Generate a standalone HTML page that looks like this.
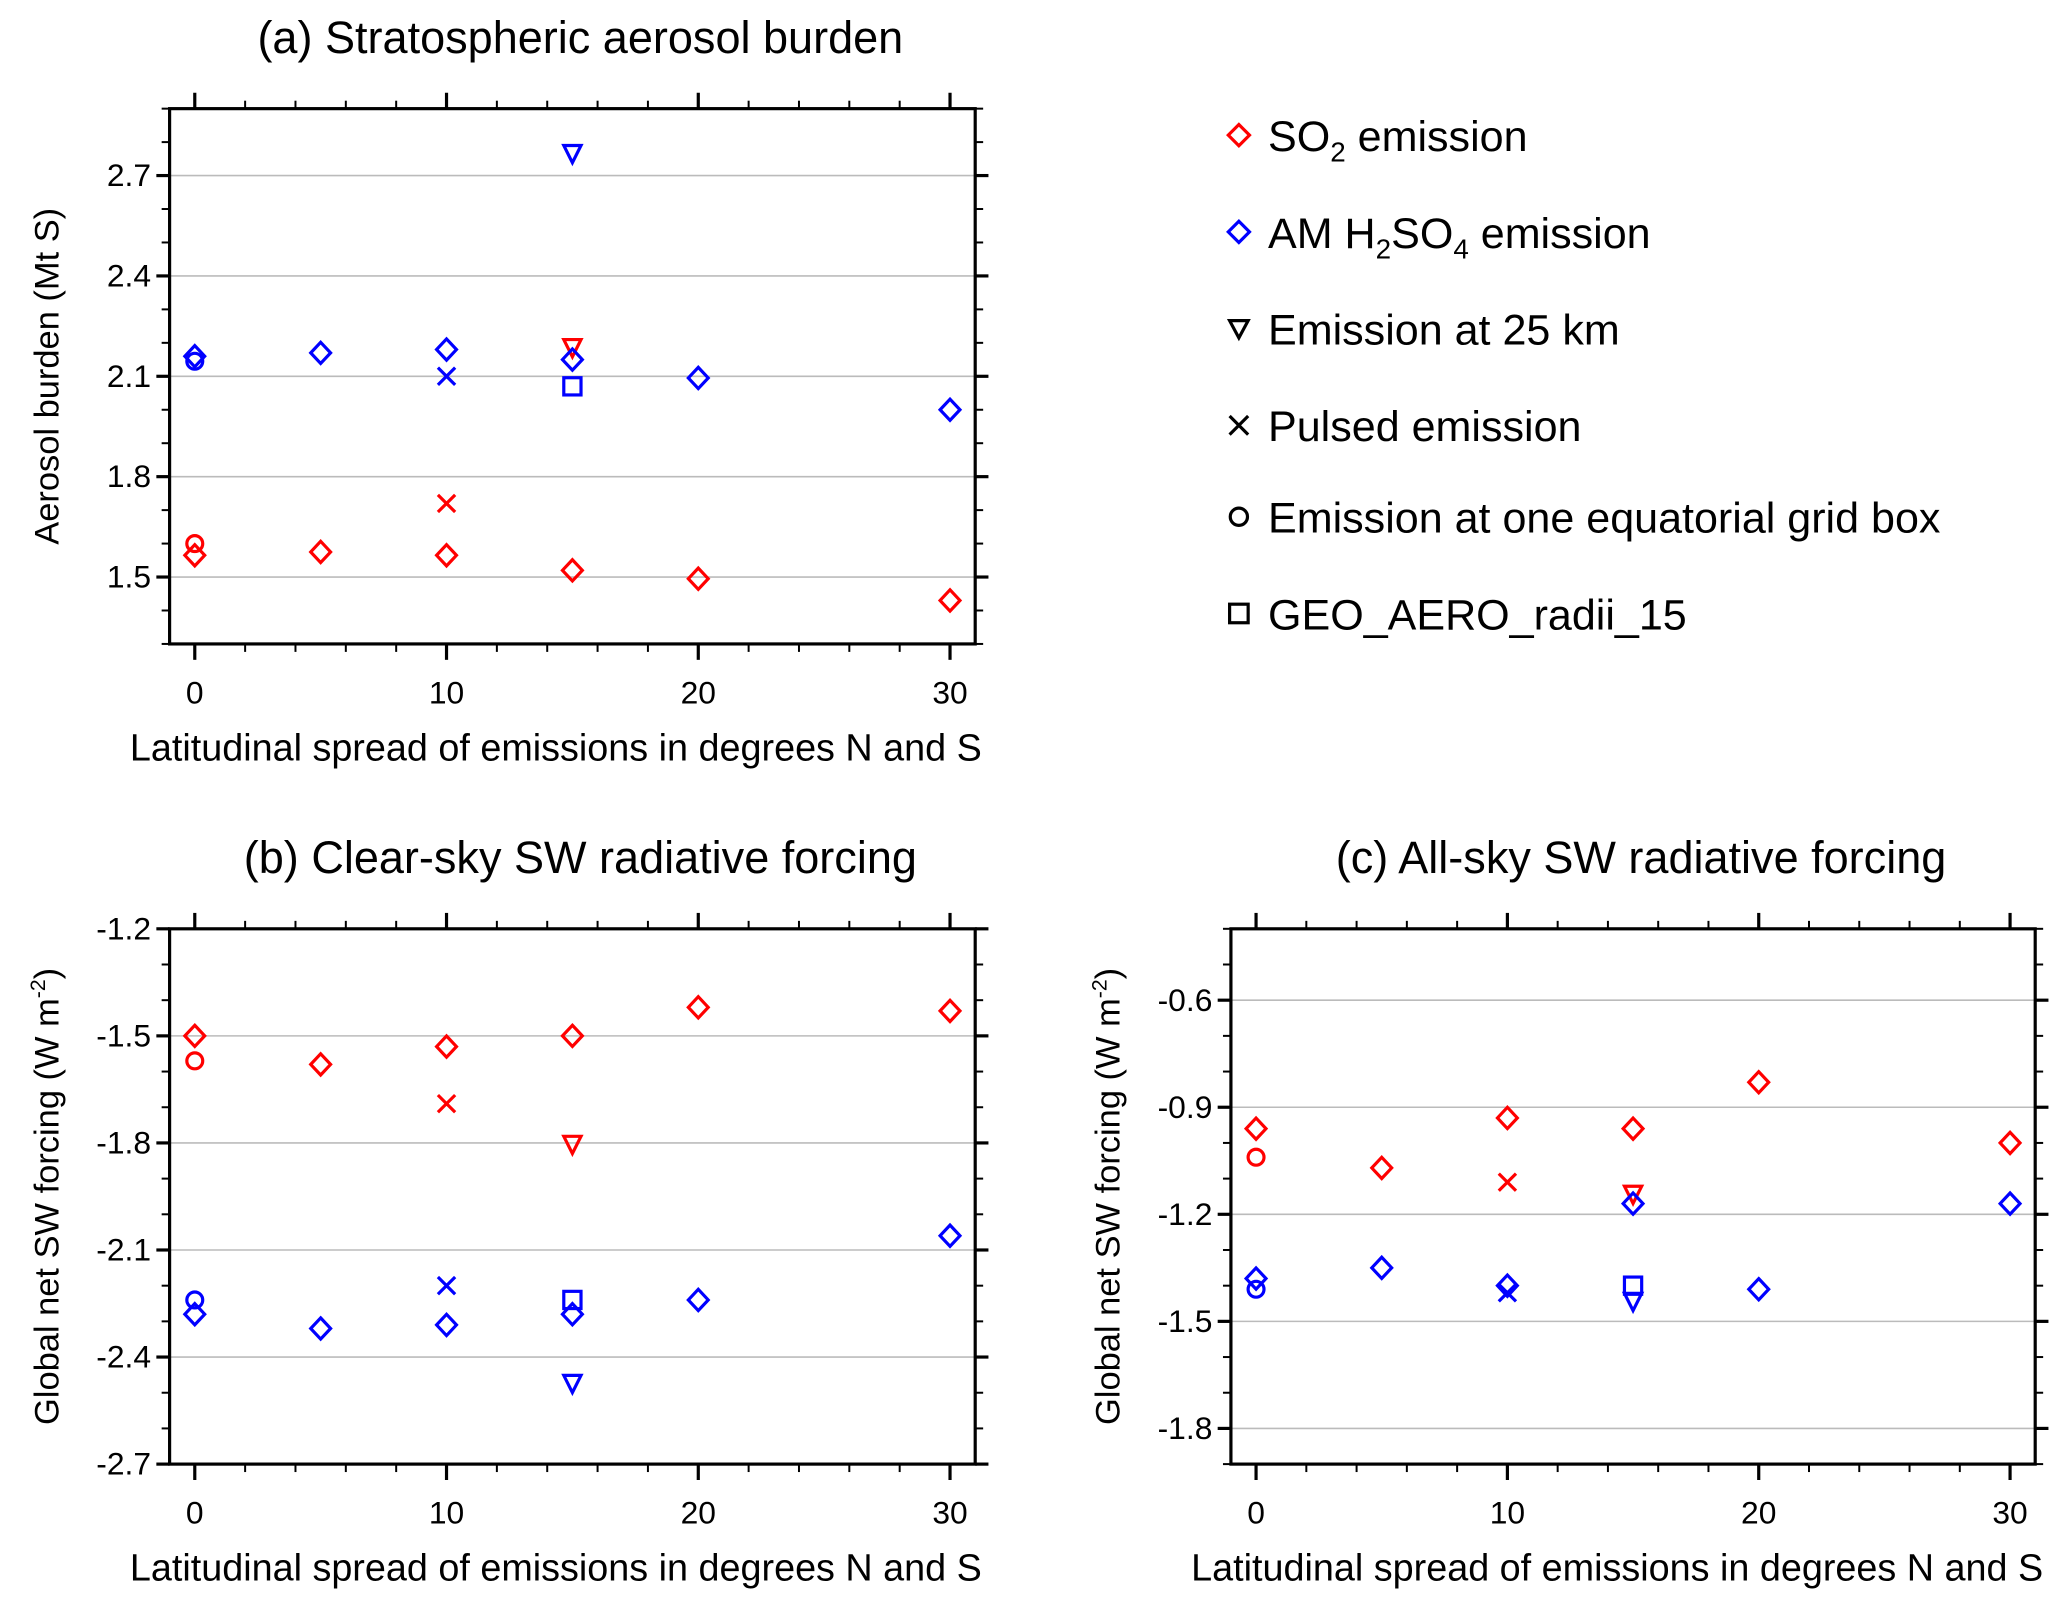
<!DOCTYPE html>
<html><head><meta charset="utf-8"><style>
html,body{margin:0;padding:0;background:#fff;width:2067px;height:1597px;overflow:hidden}
svg{display:block}
text{font-family:"Liberation Sans",sans-serif;fill:#000}
</style></head><body>
<svg id="fig" width="2067" height="1597" viewBox="0 0 1560 1205.3" preserveAspectRatio="none" xmlns="http://www.w3.org/2000/svg">
<g id="legend">
 <g><path d="M935 94 L943 102 L935 110 L927 102 Z" fill="none" stroke="#f00" stroke-width="2.4"/><text x="957" y="114" font-size="32.5">SO<tspan font-size="21" dy="8">2</tspan><tspan dy="-8"> emission</tspan></text></g>
 <g><path d="M935 167 L943 175 L935 183 L927 175 Z" fill="none" stroke="#00f" stroke-width="2.4"/><text x="957" y="187" font-size="32.5">AM H<tspan font-size="21" dy="8">2</tspan><tspan dy="-8">SO</tspan><tspan font-size="21" dy="8">4</tspan><tspan dy="-8"> emission</tspan></text></g>
 <g><path d="M928 242 L942 242 L935 255 Z" fill="none" stroke="#000" stroke-width="2.4"/><text x="957" y="260" font-size="32.5">Emission at 25 km</text></g>
 <g><path d="M928 314 L942 328 M942 314 L928 328" stroke="#000" stroke-width="2.4"/><text x="957" y="333" font-size="32.5">Pulsed emission</text></g>
 <g><circle cx="935" cy="390" r="6.5" fill="none" stroke="#000" stroke-width="2.4"/><text x="957" y="402" font-size="32.5">Emission at one equatorial grid box</text></g>
 <g><rect x="928" y="456" width="14" height="14" fill="none" stroke="#000" stroke-width="2.4"/><text x="957" y="475" font-size="32.5">GEO_AERO_radii_15</text></g>
</g>
</svg>
<script>
// Panel (a) data
const xCats = [0,5,10,15,20,30];
const aSO2 = [1.565,1.575,1.565,1.52,1.495,1.43];
const aH2SO4 = [2.16,2.17,2.18,2.15,2.095,2.00];
const aSO2Circle = [1.60]; const aSO2X = [1.72]; const aSO2Tri = [2.19];
const aH2Circle = [2.145]; const aH2X = [2.10]; const aH2Sq = [2.07]; const aH2Tri = [2.77];
// Panel (b) data
const bSO2 = [-1.50,-1.58,-1.53,-1.50,-1.42,-1.43];
const bH2SO4 = [-2.28,-2.32,-2.31,-2.28,-2.24,-2.06];
const bSO2Circle = [-1.57]; const bSO2X = [-1.69]; const bSO2Tri = [-1.80];
const bH2Circle = [-2.24]; const bH2X = [-2.20]; const bH2Sq = [-2.24]; const bH2Tri = [-2.47];
// Panel (c) data
const cSO2 = [-0.96,-1.07,-0.93,-0.96,-0.83,-1.00];
const cH2SO4 = [-1.38,-1.35,-1.40,-1.17,-1.41,-1.17];
const cSO2Circle = [-1.04]; const cSO2X = [-1.11]; const cSO2Tri = [-1.14];
const cH2Circle = [-1.41]; const cH2X = [-1.42]; const cH2Sq = [-1.40]; const cH2Tri = [-1.44];
const xTickLabels = ["0","10","20","30"];
const aYTicks = ["1.5","1.8","2.1","2.4","2.7"];
const bYTicks = ["-2.7","-2.4","-2.1","-1.8","-1.5","-1.2"];
const cYTicks = ["-1.8","-1.5","-1.2","-0.9","-0.6"];

const NS="http://www.w3.org/2000/svg";
const svg=document.getElementById('fig');
function mk(tag,attrs,parent){const e=document.createElementNS(NS,tag);for(const k in attrs)e.setAttribute(k,attrs[k]);(parent||svg).appendChild(e);return e;}

function panel(p){
  const g=mk('g',{});
  
  
  const sx=v=>p.L+(v-(-1))/(32)*(p.R-p.L);
  const sy=v=>p.B-(v-p.ymin)/(p.ymax-p.ymin)*(p.B-p.T);
  p.yt.forEach(t=>{const v=parseFloat(t);const y=sy(v);
    const gl=mk('line',{x1:p.L,x2:p.R,y1:y,y2:y,stroke:'#bbb','stroke-width':1.2},g);
    
    
  });
  for(let v=Math.round(p.ymin*10);v<=Math.round(p.ymax*10);v++){
    const val=v/10;const y=sy(val);
    const major=p.yt.some(t=>Math.abs(parseFloat(t)-val)<1e-6);
    const len=major?10:6;
    mk('line',{x1:p.L-len,x2:p.L,y1:y,y2:y,stroke:'#000','stroke-width':major?2.4:1.5},g);
    mk('line',{x1:p.R,x2:p.R+len,y1:y,y2:y,stroke:'#000','stroke-width':major?2.4:1.5},g);
  }
  p.yt.forEach(t=>{const y=sy(parseFloat(t));
    const tx=mk('text',{x:p.L-14,y:y+8,'font-size':24,'text-anchor':'end'},g);tx.textContent=t;
    
    
  });
  for(let v=0;v<=30;v+=2){const x=sx(v);const major=v%10===0;const len=major?12:6;
    mk('line',{x1:x,x2:x,y1:p.T-len,y2:p.T,stroke:'#000','stroke-width':major?2.4:1.5},g);
    mk('line',{x1:x,x2:x,y1:p.B,y2:p.B+len,stroke:'#000','stroke-width':major?2.4:1.5},g);
  }
  xTickLabels.forEach(t=>{const x=sx(parseFloat(t));
    const tx=mk('text',{x:x,y:p.B+45,'font-size':24,'text-anchor':'middle'},g);tx.textContent=t;
    
    
  });
  const fr=mk('rect',{x:p.L,y:p.T,width:p.R-p.L,height:p.B-p.T,fill:'none',stroke:'#000','stroke-width':2.4},g);
  
  
  const ti=mk('text',{x:(p.L+p.R)/2+6,y:p.T-42,'font-size':34,'text-anchor':'middle'},g);ti.textContent=p.title;
  
  
  const xt=mk('text',{x:p.L-30,y:p.B+88,'font-size':28.5},g);xt.textContent='Latitudinal  spread of emissions in degrees N and S';
  xt.setAttribute('xml:space','preserve');
  
  
  const yt=mk('text',{transform:`translate(${p.L-84},${(p.T+p.B)/2}) rotate(-90)`,'font-size':26,'text-anchor':'middle'},g);
  
  
  if(p.wm){yt.innerHTML='Global net SW forcing (W m<tspan font-size="16" dy="-10">-2</tspan><tspan dy="10">)</tspan>';}
  else yt.textContent=p.ylab;
  const sw=2.4;
  function diamond(x,v,col){const X=sx(x),Y=sy(v);const m=mk('path',{d:`M${X} ${Y-8}L${X+7.5} ${Y}L${X} ${Y+8}L${X-7.5} ${Y}Z`,fill:'none',stroke:col,'stroke-width':sw},g);
    
    }
  function circle(x,v,col){const m=mk('circle',{cx:sx(x),cy:sy(v),r:6,fill:'none',stroke:col,'stroke-width':sw},g);
    
    }
  function cross(x,v,col){const X=sx(x),Y=sy(v);const m=mk('path',{d:`M${X-6.5} ${Y-6.5}L${X+6.5} ${Y+6.5}M${X+6.5} ${Y-6.5}L${X-6.5} ${Y+6.5}`,stroke:col,'stroke-width':sw},g);
    
    }
  function tri(x,v,col){const X=sx(x),Y=sy(v);const m=mk('path',{d:`M${X-6.5} ${Y-5}L${X+6.5} ${Y-5}L${X} ${Y+8}Z`,fill:'none',stroke:col,'stroke-width':sw},g);
    
    }
  function sq(x,v,col){const m=mk('rect',{x:sx(x)-6.5,y:sy(v)-6.5,width:13,height:13,fill:'none',stroke:col,'stroke-width':sw},g);
    
    }
  const d=p.d;
  circle(0,d.sc[0],'#f00');cross(10,d.sx[0],'#f00');tri(15,d.st[0],'#f00');
  circle(0,d.hc[0],'#00f');cross(10,d.hx[0],'#00f');sq(15,d.hs[0],'#00f');tri(15,d.ht[0],'#00f');
  xCats.forEach((x,i)=>diamond(x,d.s[i],'#f00'));
  xCats.forEach((x,i)=>diamond(x,d.h[i],'#00f'));
}
panel({name:'panel-a-aerosol-burden',L:128,R:736,T:82,B:486,ymin:1.3,ymax:2.9,yt:aYTicks,title:'(a) Stratospheric aerosol burden',ylab:'Aerosol burden (Mt S)',
  d:{s:aSO2,h:aH2SO4,sc:aSO2Circle,sx:aSO2X,st:aSO2Tri,hc:aH2Circle,hx:aH2X,hs:aH2Sq,ht:aH2Tri}});
panel({name:'panel-b-clear-sky-forcing',L:128,R:736,T:701,B:1105,ymin:-2.7,ymax:-1.2,yt:bYTicks,title:'(b) Clear-sky SW radiative forcing',wm:true,
  d:{s:bSO2,h:bH2SO4,sc:bSO2Circle,sx:bSO2X,st:bSO2Tri,hc:bH2Circle,hx:bH2X,hs:bH2Sq,ht:bH2Tri}});
panel({name:'panel-c-all-sky-forcing',L:929,R:1536,T:701,B:1105,ymin:-1.9,ymax:-0.4,yt:cYTicks,title:'(c) All-sky SW radiative forcing',wm:true,
  d:{s:cSO2,h:cH2SO4,sc:cSO2Circle,sx:cSO2X,st:cSO2Tri,hc:cH2Circle,hx:cH2X,hs:cH2Sq,ht:cH2Tri}});
</script>
</body></html>
